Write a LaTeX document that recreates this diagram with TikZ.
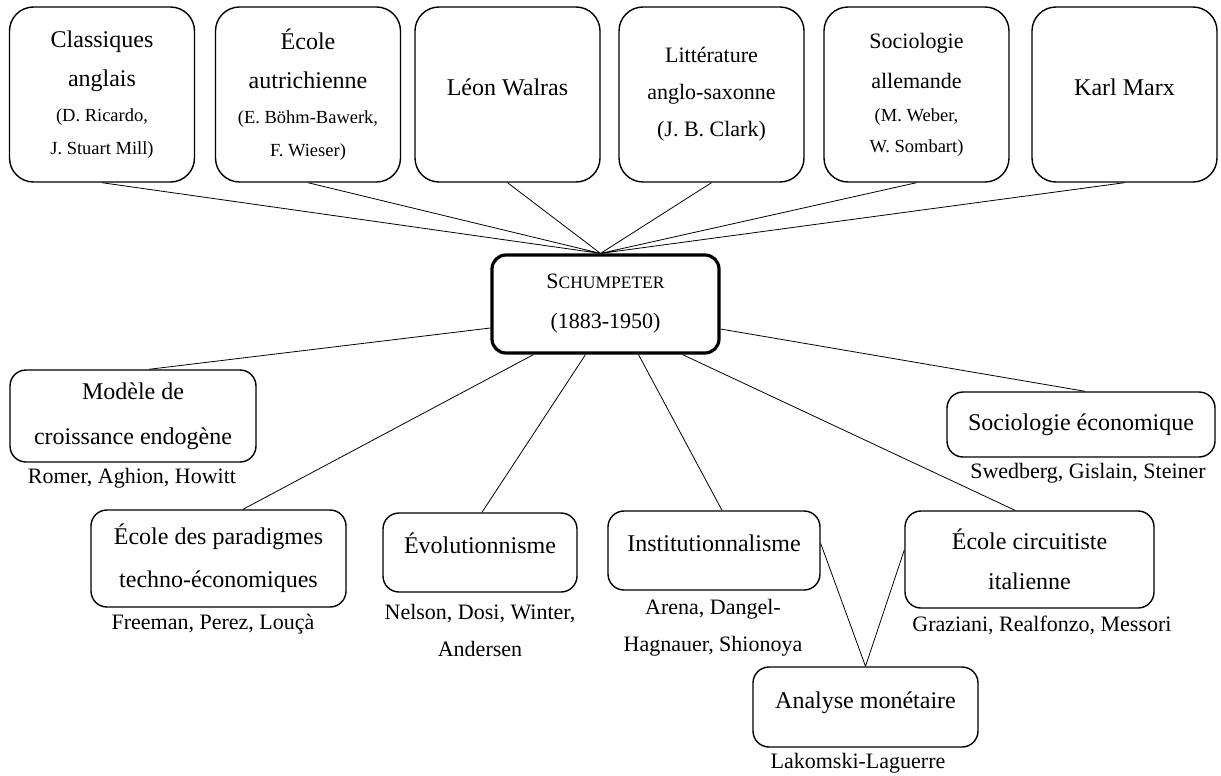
\documentclass[tikz,border=0pt]{standalone}
\usepackage{fontspec}
\setmainfont{Liberation Serif}
\usetikzlibrary{calc}

\newcommand{\grand}{\fontsize{24}{39}\selectfont}
\newcommand{\moyen}{\fontsize{22}{37}\selectfont}
\newcommand{\petit}{\fontsize{18.5}{33}\selectfont}

\begin{document}
\begin{tikzpicture}[x=1pt,y=-1pt,
  haut/.style={draw,line width=1.4pt,rounded corners=24pt,minimum width=185pt,minimum height=175pt,align=center,font=\grand,inner sep=0pt},
  bas/.style={draw,line width=1.4pt,rounded corners=16pt,align=center,font=\grand,inner sep=0pt},
  nom/.style={align=center,font=\moyen,inner sep=0pt},
  lift/.style={text height=18pt,text depth=16pt},
  lien/.style={line width=0.8pt}]
\useasboundingbox (0,0) rectangle (1221,776);
\node[haut] (cla) at (102,94.5) {Classiques\\anglais\\[-4pt]{\petit (D. Ricardo,}\\[-6pt]{\petit J. Stuart Mill)}};
\node[haut] (aut) at (308,94.5) {École\\autrichienne\\[-4pt]{\petit (E. Böhm-Bawerk,}\\[-6pt]{\petit F. Wieser)}};
\node[haut,lift] (wal) at (507.5,94.5) {Léon Walras};
\node[haut,font=\moyen] (lit) at (711.5,94.5) {Littérature\\anglo-saxonne\\(J. B. Clark)};
\node[haut,font=\moyen] (soc) at (916.5,94.5) {Sociologie\\[3pt]allemande\\[-4pt]{\petit (M. Weber,}\\[-6pt]{\petit W. Sombart)}};
\node[haut,lift] (mar) at (1124.5,94.5) {Karl Marx};
\node[draw,line width=3.2pt,rounded corners=14pt,minimum width=227pt,minimum height=98pt,align=center,inner sep=0pt,font=\fontsize{22}{40}\selectfont] (schum) at (605.5,304) {S{\fontsize{17.5}{40}\selectfont CHUMPETER}\\(1883-1950)};
\node[bas,minimum width=246pt,minimum height=92pt] (mod) at (133,416) {Modèle de\\[6pt]croissance endogène};
\node[bas,minimum width=255pt,minimum height=97pt] (par) at (218.5,558.5) {École des paradigmes\\[4pt]techno-économiques};
\node[bas,lift,minimum width=194pt,minimum height=79pt] (evo) at (480,552.5) {Évolutionnisme};
\node[bas,lift,minimum width=212pt,minimum height=79pt] (ins) at (714,550.5) {Institutionnalisme};
\node[bas,minimum width=249pt,minimum height=97pt] (cir) at (1029.5,559.5) {École circuitiste\\[1pt]italienne};
\node[bas,minimum width=268pt,minimum height=65pt] (seco) at (1081,424.5) {Sociologie économique};
\node[bas,lift,minimum width=225pt,minimum height=80pt] (ana) at (865.5,707) {Analyse monétaire};
\node[nom] (nmod) at (132,478) {Romer, Aghion, Howitt};
\node[nom] (npar) at (213,624) {Freeman, Perez, Louçà};
\node[nom] (nevo) at (480,630.5) {Nelson, Dosi, Winter,\\Andersen};
\node[nom] (nins) at (713,627.5) {Arena, Dangel-\\Hagnauer, Shionoya};
\node[nom] (ncir) at (1042,625) {Graziani, Realfonzo, Messori};
\node[nom] (nseco) at (1088,473) {Swedberg, Gislain, Steiner};
\node[nom] (nana) at (858,763) {Lakomski-Laguerre};
\draw[lien]
  (cla.south) -- ([xshift=-5pt]schum.north)
  (aut.south) -- ([xshift=-5pt]schum.north)
  (wal.south) -- ([xshift=-5pt]schum.north)
  (lit.south) -- ([xshift=-5pt]schum.north)
  (soc.south) -- ([xshift=-5pt]schum.north)
  (mar.south) -- ([xshift=-5pt]schum.north)
  ([yshift=-24pt]schum.west) -- ([xshift=16pt]mod.north)
  ([yshift=-25pt]schum.east) -- ([xshift=4pt]seco.north)
  ([xshift=-72pt]schum.south) -- ([xshift=24.5pt]par.north)
  ([xshift=-20pt]schum.south) -- ([xshift=2pt]evo.north)
  ([xshift=33pt]schum.south) -- ([xshift=8pt]ins.north)
  ([xshift=77pt]schum.south) -- ([xshift=-14.5pt]cir.north)
  ([yshift=7pt]ins.east) -- (ana.north)
  ([yshift=9.5pt]cir.west) -- (ana.north);
\end{tikzpicture}
\end{document}
